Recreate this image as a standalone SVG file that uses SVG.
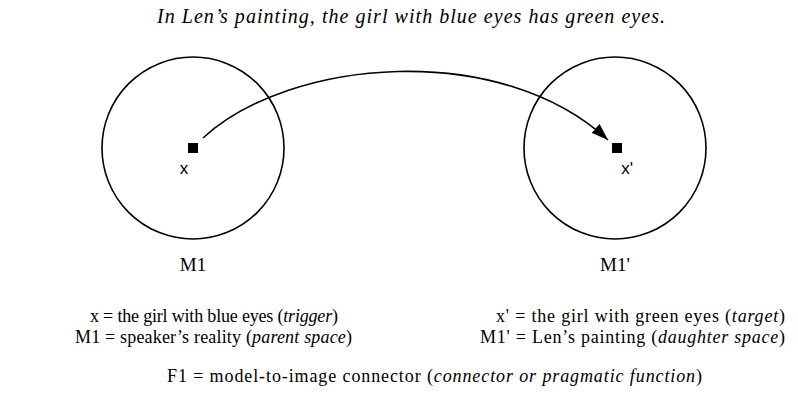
<svg xmlns="http://www.w3.org/2000/svg" width="798" height="403" viewBox="0 0 798 403">
<style>
text{font-family:"Liberation Serif","DejaVu Serif",serif;font-size:18px;fill:#000}
.it{font-style:italic}
.lbl{font-family:"Liberation Sans","DejaVu Sans",sans-serif;font-size:17px}
.space{fill:none;stroke:#000;stroke-width:1.6}
.conn{fill:none;stroke:#000;stroke-width:1.6}
</style>
<defs>
<marker id="ah" markerWidth="18" markerHeight="12" refX="17" refY="6" orient="auto" markerUnits="userSpaceOnUse">
<path d="M0,0 L17,6 L0,12 Z" fill="#000"/>
</marker>
</defs>
<text class="it" x="411" y="23" text-anchor="middle" textLength="508" lengthAdjust="spacing" style="font-size:20px">In Len’s painting, the girl with blue eyes has green eyes.</text>
<g id="M1">
<circle class="space" cx="193" cy="148" r="91"/>
<rect x="188" y="143" width="10" height="10" fill="#000"/>
<text class="lbl" x="184" y="174" text-anchor="middle">x</text>
<text x="193" y="271" text-anchor="middle" style="font-size:19px">M1</text>
</g>
<g id="M1prime">
<circle class="space" cx="615" cy="148" r="91"/>
<rect x="612" y="143" width="10" height="10" fill="#000"/>
<text class="lbl" x="627" y="174" text-anchor="middle">x'</text>
<text x="615" y="271" text-anchor="middle" style="font-size:19px">M1'</text>
</g>
<g id="connectors">
<path class="conn" d="M203,138 C290,58 500,40 608,140" marker-end="url(#ah)"/>
</g>
<g id="legend">
<text x="90" y="322" textLength="248" lengthAdjust="spacing">x = the girl with blue eyes (<tspan class="it">trigger</tspan>)</text>
<text x="75" y="343" textLength="277" lengthAdjust="spacing">M1 = speaker’s reality (<tspan class="it">parent space</tspan>)</text>
<text x="496" y="322" textLength="289" lengthAdjust="spacing">x' = the girl with green eyes (<tspan class="it">target</tspan>)</text>
<text x="480" y="343" textLength="305" lengthAdjust="spacing">M1' = Len’s painting (<tspan class="it">daughter space</tspan>)</text>
<text x="167" y="382" textLength="535" lengthAdjust="spacing">F1 = model-to-image connector (<tspan class="it">connector or pragmatic function</tspan>)</text>
</g>
</svg>
